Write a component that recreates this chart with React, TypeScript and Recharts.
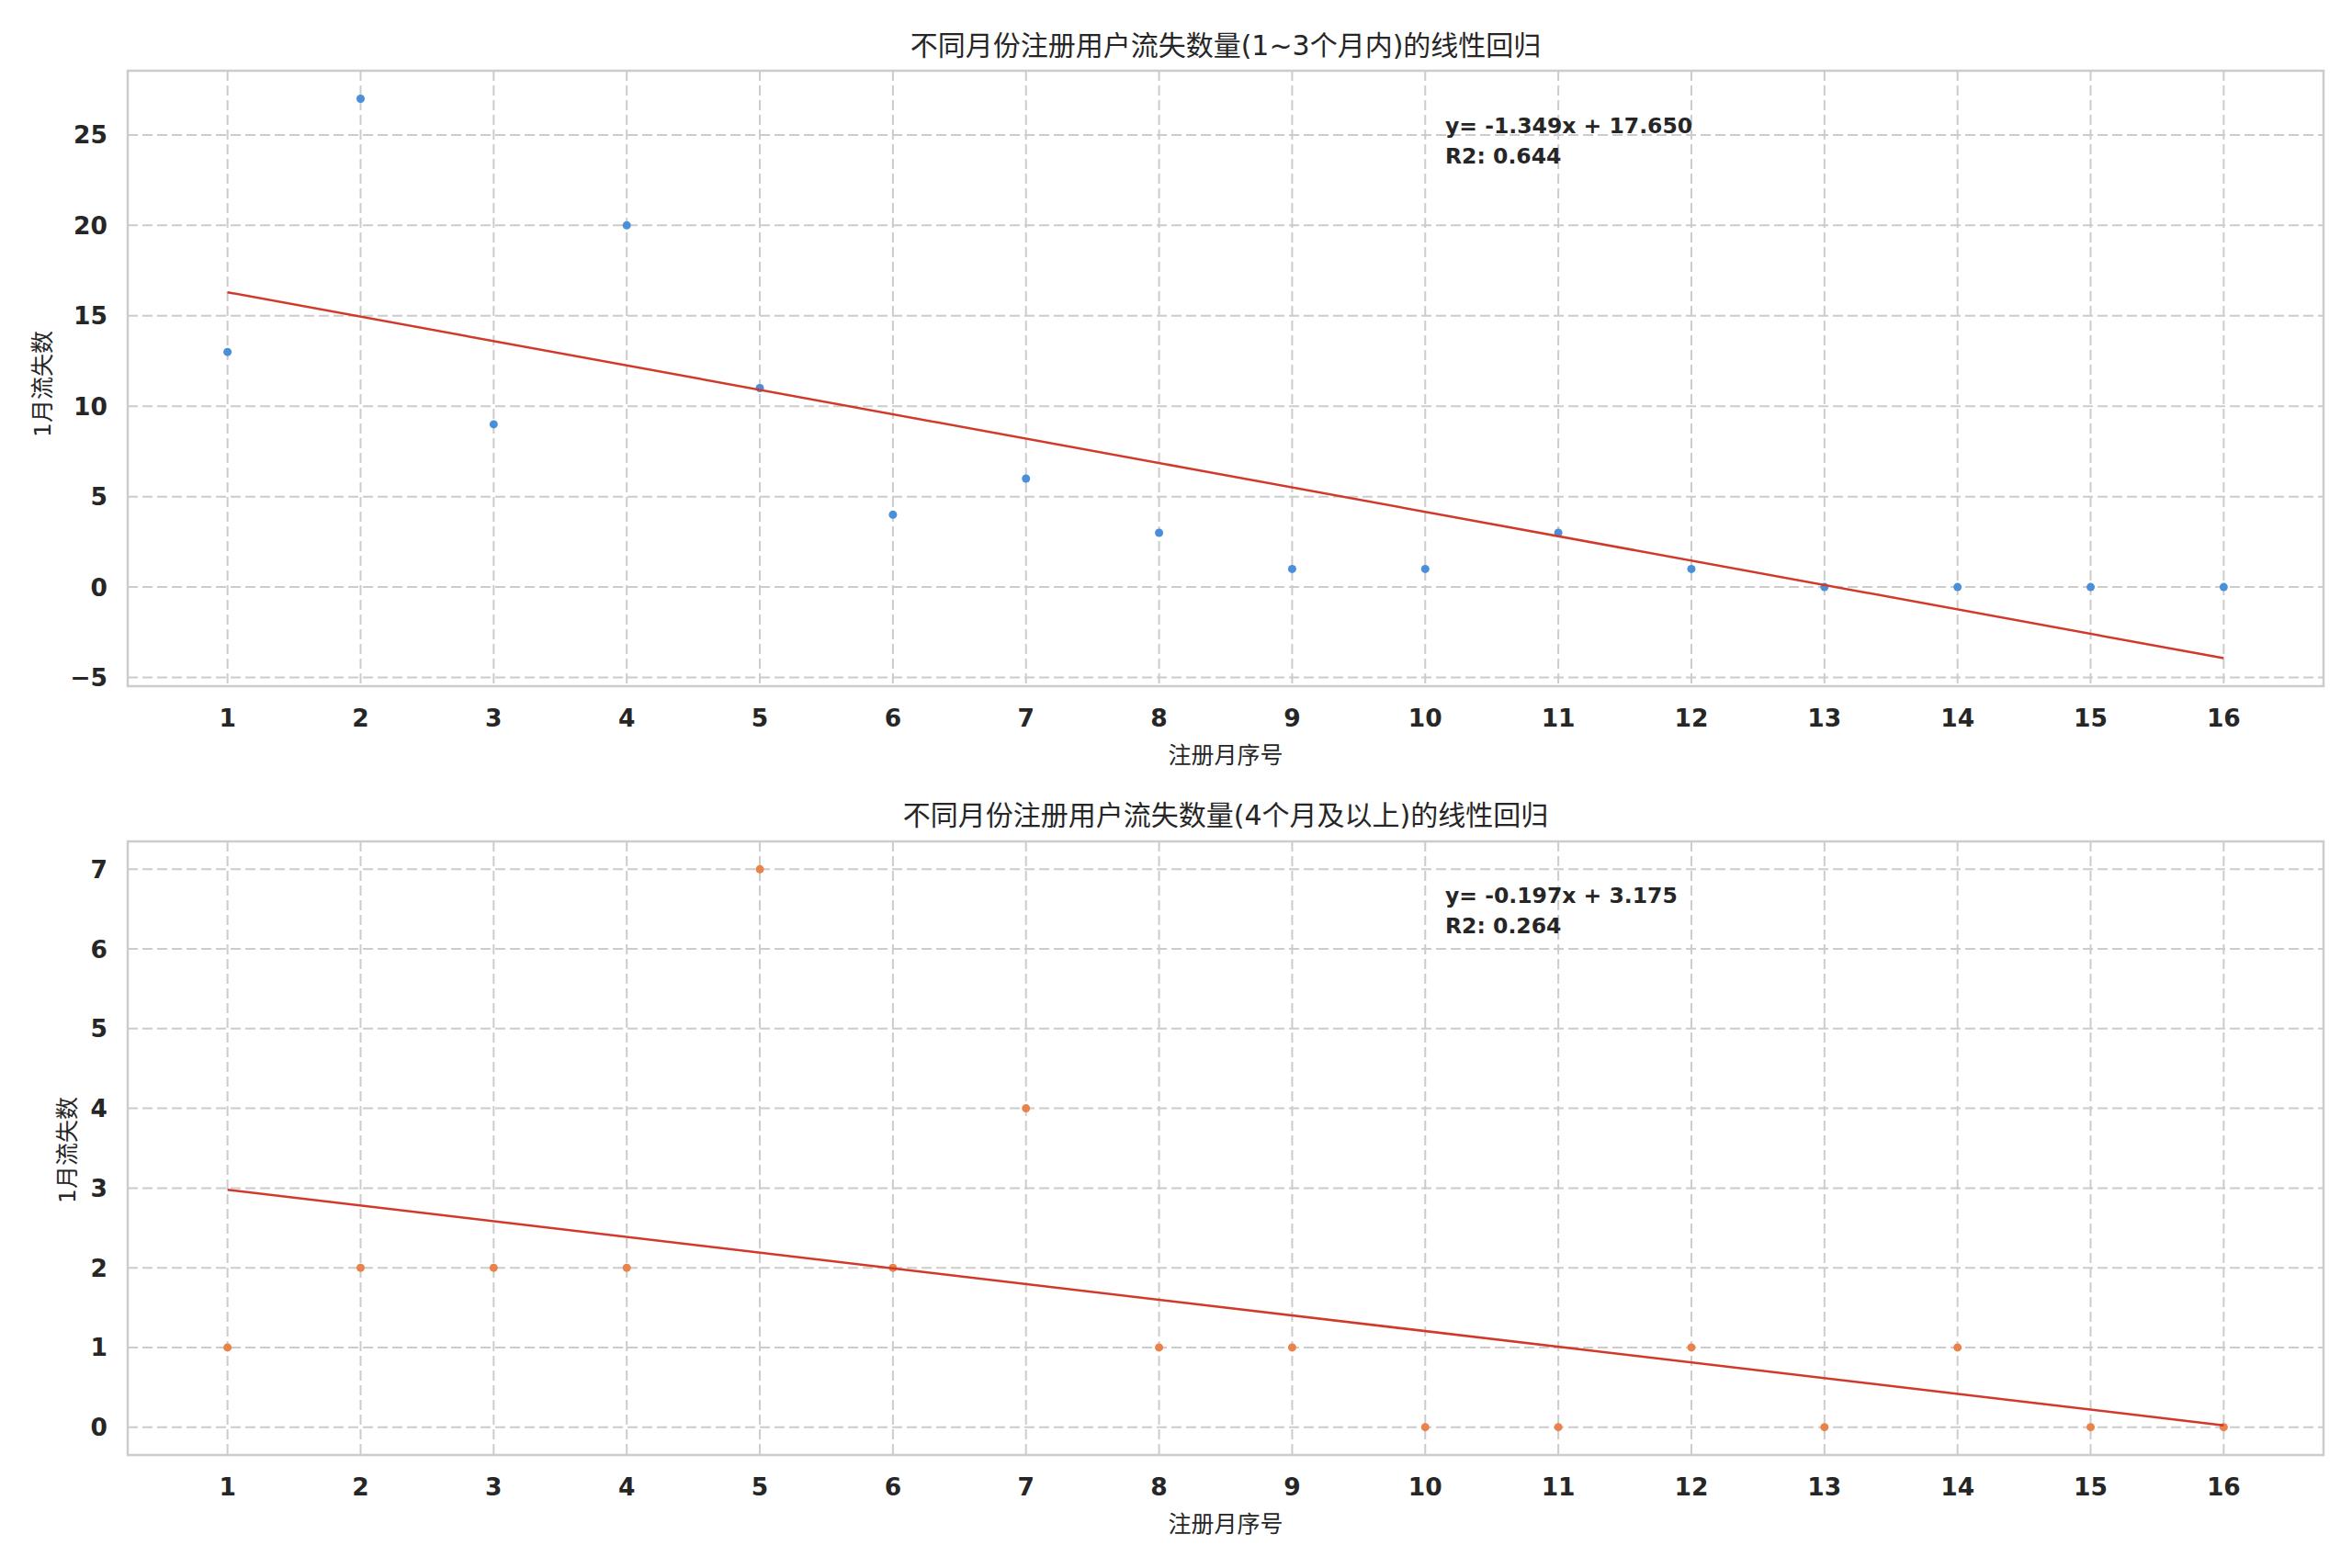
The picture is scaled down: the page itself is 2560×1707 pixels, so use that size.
import React from 'react';
import {
  ScatterChart,
  Scatter,
  XAxis,
  YAxis,
  CartesianGrid,
  ReferenceArea,
} from 'recharts';

// ---- data ----
const months = [1, 2, 3, 4, 5, 6, 7, 8, 9, 10, 11, 12, 13, 14, 15, 16];
const churnShort = [13, 27, 9, 20, 11, 4, 6, 3, 1, 1, 3, 1, 0, 0, 0, 0];
const churnLong = [1, 2, 2, 2, 7, 2, 4, 1, 1, 0, 0, 1, 0, 1, 0, 0];

const fitShort = { slope: -1.349, intercept: 17.65, r2: 0.644 };
const fitLong = { slope: -0.197, intercept: 3.175, r2: 0.264 };

const xTicks = months;
const yTicksShort = [-5, 0, 5, 10, 15, 20, 25];
const yTicksLong = [0, 1, 2, 3, 4, 5, 6, 7];

const titleShort = '不同月份注册用户流失数量(1~3个月内)的线性回归';
const titleLong = '不同月份注册用户流失数量(4个月及以上)的线性回归';
const xLabel = '注册月序号';
const yLabel = '1月流失数';

const xDomain: [number, number] = [0.25, 16.75];
const yDomainShort: [number, number] = [-5.48, 28.55];
const yDomainLong: [number, number] = [-0.35, 7.35];

// ---- styles ----
const TEXT = '#262626';
const GRID = '#cccccc';
const BLUE = '#4a8fd8';
const ORANGE = '#e9824b';
const RED = '#d13a2b';
const TICK_FONT = { fontFamily: 'DejaVu Sans', fontWeight: 700, fontSize: 26.5, fill: TEXT };

const toPoints = (ys: number[]) => months.map((m, i) => ({ x: m, y: ys[i] }));
const fitLine = (f: { slope: number; intercept: number }) =>
  [months[0], months[months.length - 1]].map((m) => ({ x: m, y: f.intercept + f.slope * m }));

const fmt = (v: number) => (v < 0 ? '\u2212' + Math.abs(v) : String(v));

function Panel(props: {
  top: number;
  height: number;
  marginTop: number;
  marginBottom: number;
  ys: number[];
  fit: { slope: number; intercept: number };
  color: string;
  yDomain: [number, number];
  yTicks: number[];
}) {
  const { top, height, marginTop, marginBottom, ys, fit, color, yDomain, yTicks } = props;
  const dot = (p: any) => <circle cx={p.cx} cy={p.cy} r={4.5} fill={color} />;
  return (
    <div style={{ position: 'absolute', left: 0, top, width: 2560, height }}>
      <ScatterChart
        width={2560}
        height={height}
        margin={{ top: marginTop, right: 31, bottom: marginBottom, left: 29 }}
      >
        <CartesianGrid stroke={GRID} strokeWidth={2} strokeDasharray="11 5" />
        <XAxis
          type="number"
          dataKey="x"
          domain={xDomain}
          ticks={xTicks}
          allowDataOverflow
          axisLine={false}
          tickLine={false}
          tickMargin={19}
          height={60}
          tick={TICK_FONT}
          interval={0}
        />
        <YAxis
          type="number"
          dataKey="y"
          domain={yDomain}
          ticks={yTicks}
          allowDataOverflow
          axisLine={false}
          tickLine={false}
          tickMargin={16}
          width={110}
          tick={TICK_FONT}
          tickFormatter={fmt}
          interval={0}
        />
        <ReferenceArea
          x1={xDomain[0]}
          x2={xDomain[1]}
          y1={yDomain[0]}
          y2={yDomain[1]}
          fill="none"
          fillOpacity={0}
          stroke={GRID}
          strokeWidth={2.5}
        />
        <Scatter data={toPoints(ys)} shape={dot} isAnimationActive={false} />
        <Scatter
          data={fitLine(fit)}
          line={{ stroke: RED, strokeWidth: 2.5 }}
          shape={() => <g />}
          isAnimationActive={false}
        />
      </ScatterChart>
    </div>
  );
}

export default function App() {
  const cjk = "'DejaVu Sans', 'Noto Sans CJK SC', sans-serif";
  return (
    <div
      style={{
        position: 'absolute',
        left: 0,
        top: 0,
        width: 2560,
        height: 1707,
        background: '#ffffff',
        overflow: 'hidden',
      }}
    >
      <Panel
        top={0}
        height={840}
        marginTop={77}
        marginBottom={33}
        ys={churnShort}
        fit={fitShort}
        color={BLUE}
        yDomain={yDomainShort}
        yTicks={yTicksShort}
      />
      <Panel
        top={840}
        height={867}
        marginTop={76}
        marginBottom={63}
        ys={churnLong}
        fit={fitLong}
        color={ORANGE}
        yDomain={yDomainLong}
        yTicks={yTicksLong}
      />
      <svg
        width={2560}
        height={1707}
        style={{ position: 'absolute', left: 0, top: 0, pointerEvents: 'none' }}
      >
        <text x={1334} y={49} textAnchor="middle" dominantBaseline="central" fontSize={30} fill={TEXT} fontFamily={cjk}>
          {titleShort}
        </text>
        <text x={1334} y={887} textAnchor="middle" dominantBaseline="central" fontSize={30} fill={TEXT} fontFamily={cjk}>
          {titleLong}
        </text>
        <text x={1334} y={822} textAnchor="middle" dominantBaseline="central" fontSize={25} fill={TEXT} fontFamily={cjk}>
          {xLabel}
        </text>
        <text x={1334} y={1659} textAnchor="middle" dominantBaseline="central" fontSize={25} fill={TEXT} fontFamily={cjk}>
          {xLabel}
        </text>
        <text
          x={46}
          y={418}
          textAnchor="middle"
          dominantBaseline="central"
          fontSize={25}
          fill={TEXT}
          fontFamily={cjk}
          transform="rotate(-90 46 418)"
        >
          {yLabel}
        </text>
        <text
          x={73}
          y={1252}
          textAnchor="middle"
          dominantBaseline="central"
          fontSize={25}
          fill={TEXT}
          fontFamily={cjk}
          transform="rotate(-90 73 1252)"
        >
          {yLabel}
        </text>
        <g fontFamily="DejaVu Sans" fontWeight={700} fontSize={23.5} fill={TEXT}>
          <text x={1573} y={137} dominantBaseline="central">
            {`y= ${fitShort.slope.toFixed(3)}x + ${fitShort.intercept.toFixed(3)}`}
          </text>
          <text x={1573} y={170} dominantBaseline="central">
            {`R2: ${fitShort.r2.toFixed(3)}`}
          </text>
          <text x={1573} y={975} dominantBaseline="central">
            {`y= ${fitLong.slope.toFixed(3)}x + ${fitLong.intercept.toFixed(3)}`}
          </text>
          <text x={1573} y={1008} dominantBaseline="central">
            {`R2: ${fitLong.r2.toFixed(3)}`}
          </text>
        </g>
      </svg>
    </div>
  );
}
